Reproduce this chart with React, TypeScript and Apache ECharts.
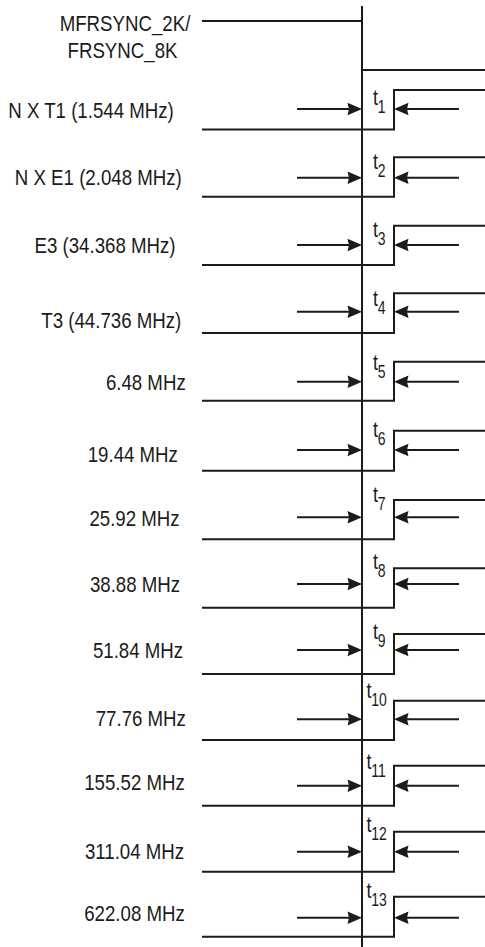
import { useEffect, useRef } from "react";
import * as echarts from "echarts";

// ---- diagram content ----
const syncLabel = ["MFRSYNC_2K/", "FRSYNC_8K"];
const rowLabels = [
  "N X T1 (1.544 MHz)",
  "N X E1 (2.048 MHz)",
  "E3 (34.368 MHz)",
  "T3 (44.736 MHz)",
  "6.48 MHz",
  "19.44 MHz",
  "25.92 MHz",
  "38.88 MHz",
  "51.84 MHz",
  "77.76 MHz",
  "155.52 MHz",
  "311.04 MHz",
  "622.08 MHz",
];
const timingSubscripts = ["1", "2", "3", "4", "5", "6", "7", "8", "9", "10", "11", "12", "13"];

// ---- signal levels / edges, in diagram units (y grows downward) ----
const syncLevels = [21, 70];
const rowLowLevels = [129.5, 196.7, 265, 333, 400.7, 470.7, 539.3, 607.7, 674, 740, 805.7, 871.7, 936.7];
const rowHighLevels = [90, 157.3, 225.7, 293.3, 361.7, 430.7, 500, 568.3, 634, 700.7, 765.7, 831.7, 896.7];
const arrowLevels = [109, 177.7, 245, 311.7, 381.7, 450, 517.3, 584, 650, 719.3, 785.7, 851.7, 917.7];
const traceStart = 202;
const syncEdge = 362;
const clockEdge = 394;
const traceEnd = 485;
const refLineSpan = [6, 947];
const arrowTails = [297, 459];

// ---- text layout ----
const syncLabelCenterX = [125, 122.5];
const syncLabelY = [23, 49.5];
const labelCenterX = [91, 98.3, 105, 111.3, 145.8, 132.8, 134.5, 135, 138, 140.8, 134.5, 134.5, 134.5];
const labelY = [110, 177.3, 245, 320, 381.7, 454, 518.3, 584, 650, 718.3, 782.3, 850.7, 912.7];
const tBaseline = [105, 169.2, 237.5, 306.5, 370.2, 437.5, 502.5, 569.2, 639.2, 698.3, 769.2, 832.5, 898.2];

const W = 485;
const H = 947;
const ink = "#1b1b1b";
const FONT = "'Liberation Sans', Arial, sans-serif";
const LABEL_SIZE = 22.5;
const SCALE_X = 0.83;

function lineSeries(data: number[][]) {
  return {
    type: "line",
    data,
    symbol: "none",
    silent: true,
    clip: false,
    lineStyle: { color: ink, width: 2, join: "miter", cap: "butt" },
    z: 2,
  };
}

export default function App() {
  const ref = useRef<HTMLDivElement>(null);

  useEffect(() => {
    document.body.style.margin = "0";
    const chart = echarts.init(ref.current!, undefined, { renderer: "svg" });

    const waveformSeries = rowLowLevels.map((low, i) =>
      lineSeries([
        [traceStart, low],
        [clockEdge, low],
        [clockEdge, rowHighLevels[i]],
        [traceEnd, rowHighLevels[i]],
      ])
    );

    const option: any = {
      animation: false,
      backgroundColor: "#ffffff",
      grid: { left: 0, right: 0, top: 0, bottom: 0, containLabel: false },
      xAxis: { type: "value", min: 0, max: W, show: false },
      yAxis: { type: "value", min: 0, max: H, inverse: true, show: false },
      series: [
        lineSeries([
          [syncEdge, refLineSpan[0]],
          [syncEdge, refLineSpan[1]],
        ]),
        lineSeries([
          [traceStart, syncLevels[0]],
          [syncEdge, syncLevels[0]],
          [syncEdge, syncLevels[1]],
          [traceEnd, syncLevels[1]],
        ]),
        ...waveformSeries,
        {
          type: "custom",
          silent: true,
          clip: false,
          data: arrowLevels.map((y, i) => [i, y]),
          renderItem: (_p: any, api: any) => {
            const y = api.value(1);
            const [a0, py] = api.coord([arrowTails[0], y]);
            const [tip1] = api.coord([syncEdge, y]);
            const [tip2] = api.coord([clockEdge, y]);
            const [a1] = api.coord([arrowTails[1], y]);
            const L = 14.5;
            const h = 6.3;
            const n = 1.5;
            return {
              type: "group",
              children: [
                { type: "line", shape: { x1: a0, y1: py, x2: tip1 - L + n, y2: py }, style: { stroke: ink, lineWidth: 2 } },
                {
                  type: "polygon",
                  shape: { points: [[tip1, py], [tip1 - L, py - h], [tip1 - L + n, py], [tip1 - L, py + h]] },
                  style: { fill: ink },
                },
                { type: "line", shape: { x1: a1, y1: py, x2: tip2 + L - n, y2: py }, style: { stroke: ink, lineWidth: 2 } },
                {
                  type: "polygon",
                  shape: { points: [[tip2, py], [tip2 + L, py - h], [tip2 + L - n, py], [tip2 + L, py + h]] },
                  style: { fill: ink },
                },
              ],
            };
          },
        },
        {
          type: "custom",
          silent: true,
          clip: false,
          data: rowLabels.map((_, i) => [i]),
          renderItem: (_p: any, api: any) => {
            const i = api.value(0);
            const [lx, ly] = api.coord([labelCenterX[i], labelY[i]]);
            const sub = timingSubscripts[i];
            const tLeft = 373 - (sub.length - 1) * 6.5;
            const [tx, tb] = api.coord([tLeft, tBaseline[i]]);
            const children: any[] = [
              {
                type: "text",
                x: lx,
                y: ly,
                scaleX: SCALE_X,
                style: { text: rowLabels[i], fontSize: LABEL_SIZE, fontFamily: FONT, fill: ink, align: "center", verticalAlign: "middle" },
              },
              {
                type: "text",
                x: tx,
                y: tb - 0.35 * 22.5,
                scaleX: 0.8,
                style: { text: "t", fontSize: 22.5, fontFamily: FONT, fill: ink, align: "left", verticalAlign: "middle" },
              },
              {
                type: "text",
                x: tx + 4.8,
                y: tb + 8 - 0.35 * 17.5,
                scaleX: 0.8,
                style: { text: sub, fontSize: 17.5, fontFamily: FONT, fill: ink, align: "left", verticalAlign: "middle" },
              },
            ];
            if (i === 0) {
              syncLabel.forEach((s, k) => {
                const [sx, sy] = api.coord([syncLabelCenterX[k], syncLabelY[k]]);
                children.push({
                  type: "text",
                  x: sx,
                  y: sy,
                  scaleX: SCALE_X,
                  style: { text: s, fontSize: LABEL_SIZE, fontFamily: FONT, fill: ink, align: "center", verticalAlign: "middle" },
                });
              });
            }
            return { type: "group", children };
          },
        },
      ],
    };

    chart.setOption(option);
    return () => chart.dispose();
  }, []);

  return <div ref={ref} style={{ width: W, height: H }} />;
}
